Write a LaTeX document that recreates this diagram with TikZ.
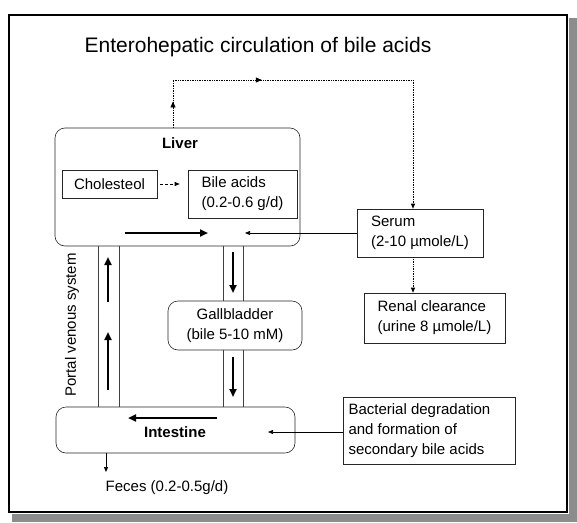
\documentclass[tikz,border=0pt]{standalone}
\usepackage{fontspec}
\setmainfont{Liberation Sans}
\usetikzlibrary{arrows.meta,decorations.markings}
\begin{document}
\begin{tikzpicture}[x=1pt,y=-1pt,
  txt/.style={font=\fontsize{15}{20}\selectfont},
  box/.style={draw=black!85, line width=0.6pt, inner sep=0pt, txt},
  rbox/.style={box, rounded corners=10pt},
  chan/.style={draw=black!75, line width=0.8pt},
  thick arrow/.style={line width=2.6pt, -{Triangle[length=8pt,width=7pt]}},
  thin arrow/.style={line width=0.7pt, -{Triangle[length=5pt,width=4pt]}},
  dots/.style={line width=0.7pt, densely dotted},
  midarr/.style={postaction={decorate},decoration={markings,mark=at position #1 with {\arrow{Triangle[length=6pt,width=5pt]}}}}
]
\useasboundingbox (0,0) rectangle (577,522);
% frame with shadow
\fill[black!45] (569,18) rectangle (577,522);
\fill[black!45] (12,514) rectangle (577,522);
\draw[line width=2.6pt] (9,15) rectangle (567,512);

\node[font=\fontsize{21}{24}\selectfont, anchor=base] (title) at (258,52) {Enterohepatic circulation of bile acids};

% boxes
\node[rbox, minimum width=245pt, minimum height=118pt] (liver) at (177.5,187) {};
\node[txt, font=\fontsize{15}{20}\selectfont\bfseries] (liverlbl) at (180,143) {Liver};
\node[box, minimum width=95pt, minimum height=28pt] (chol) at (109.5,184) {Cholesteol};
\node[box, minimum width=109pt, minimum height=48pt, align=left] (bile) at (242.5,194) {Bile acids\\(0.2-0.6 g/d)};
\node[box, minimum width=126pt, minimum height=48pt, align=left] (serum) at (420,233) {Serum\phantom{xxxxxxx}\\(2-10 µmole/L)};
\node[box, minimum width=141pt, minimum height=50pt, align=left] (renal) at (434.5,318) {Renal clearance\\(urine 8 µmole/L)};
\node[rbox, minimum width=134pt, minimum height=49pt, align=center] (gall) at (235,325.5) {Gallbladder\\(bile 5-10 mM)};
\node[rbox, minimum width=239pt, minimum height=46pt] (intest) at (175.5,430) {};
\node[txt, font=\fontsize{15}{20}\selectfont\bfseries] (intlbl) at (175,432) {Intestine};
\node[box, minimum width=172pt, minimum height=67pt, align=left] (bact) at (429,430.5) {Bacterial degradation\\and formation of\phantom{xxxxxxx}\\secondary bile acids};

\node[txt, rotate=90] (portal) at (72,325) {Portal venous system};
\node[txt, anchor=center] (feces) at (167,488) {Feces (0.2-0.5g/d)};

% channels
\draw[chan] (liver.south -| 98,0) -- (intest.north -| 98,0);
\draw[chan] (liver.south -| 119,0) -- (intest.north -| 119,0);
\draw[chan] (liver.south -| 223,0) -- (gall.north -| 223,0);
\draw[chan] (liver.south -| 243,0) -- (gall.north -| 243,0);
\draw[chan] (gall.south -| 223,0) -- (intest.north -| 223,0);
\draw[chan] (gall.south -| 243,0) -- (intest.north -| 243,0);

% thick arrows
\coordinate (pa1s) at (108,302); \coordinate (pa1e) at (108,257);
\coordinate (pa2s) at (108,390); \coordinate (pa2e) at (108,332);
\coordinate (ba1s) at (233,252); \coordinate (ba1e) at (233,293);
\coordinate (ba2s) at (233,357); \coordinate (ba2e) at (233,397);
\coordinate (la1s) at (125,233); \coordinate (la1e) at (208,233);
\coordinate (ia1s) at (217,418); \coordinate (ia1e) at (128,418);
\draw[thick arrow] (pa1s) -- (pa1e);
\draw[thick arrow] (pa2s) -- (pa2e);
\draw[thick arrow] (ba1s) -- (ba1e);
\draw[thick arrow] (ba2s) -- (ba2e);
\draw[thick arrow] (la1s) -- (la1e);
\draw[thick arrow] (ia1s) -- (ia1e);

% thin arrows
\draw[thin arrow, densely dashed, shorten <=3pt, shorten >=8pt] (chol.east) -- (chol.east -| bile.west);
\coordinate (sertip) at (245,233);
\draw[thin arrow] (serum.west) -- (sertip);
\coordinate (bacttip) at (268,432);
\draw[thin arrow] (bact.west |- bacttip) -- (bacttip);
\coordinate (fecestip) at (106,472);
\draw[thin arrow] (intest.south -| fecestip) -- (fecestip);

% dotted connections
\coordinate (tl) at (173,80); \coordinate (tr) at (413,80);
\draw[dots, midarr=0.55] (liver.north -| tl) -- (tl);
\draw[dots, midarr=0.37] (tl) -- (tr);
\draw[dots, thin arrow] (tr) -- (serum.north -| tr);
\draw[dots, thin arrow] (serum.south -| tr) -- (renal.north -| tr);
\end{tikzpicture}
\end{document}
